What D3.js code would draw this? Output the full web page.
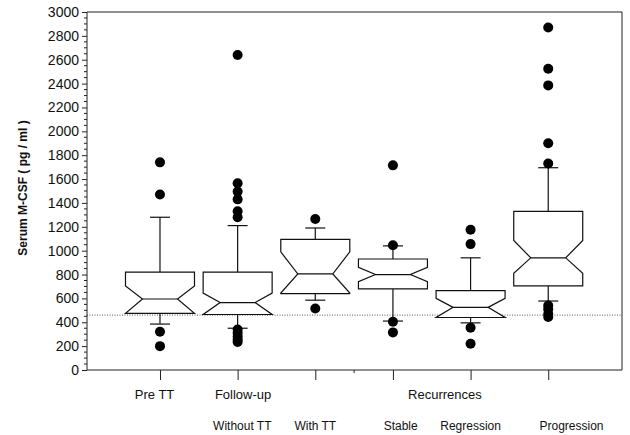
<!DOCTYPE html>
<html>
<head>
<meta charset="utf-8">
<script src="https://cdn.jsdelivr.net/npm/d3@7"></script>
<style>
  body { margin: 0; background: #fff; }
  svg { font-family: "Liberation Sans", Arial, sans-serif; }
</style>
</head>
<body>
<div id="chart"></div>
<script>
// groups, in order along the x axis
var groups = ["Pre TT", "Without TT", "With TT", "Stable", "Regression", "Progression"];
var positions = [1, 2, 3, 4, 5, 6];

// box statistics, pg / ml
var q1 = [475, 465, 640, 680, 440, 705];
var q3 = [820, 820, 1095, 930, 665, 1330];
var median = [595, 565, 805, 800, 525, 940];
var notchLo = [475, 465, 645, 740, 440, 810];
var notchHi = [705, 645, 990, 860, 600, 1085];
var whiskerLo = [385, 350, 585, 410, 395, 578];
var whiskerHi = [1280, 1210, 1190, 1040, 940, 1695];
var outliers = [
    [1740, 1470, 320, 200],
    [2640, 1565, 1495, 1430, 1330, 1280, 340, 310, 280, 255, 235],
    [1265, 515],
    [1715, 1045, 405, 315],
    [1175, 1055, 355, 220],
    [2870, 2525, 2385, 1900, 1730, 540, 510, 470, 445]
];
var refLine = 460;

var yTicks = d3.range(0, 3001, 200);
var yMinor = d3.range(0, 3001, 50);
var xTicks = [1, 2, 3, 4, 5, 6];
var xMinor = [3.5];

// category labels under the axis
var labelRow1 = ["Pre TT", "Follow-up", "Recurrences"];
var labelRow1Pos = [0.93, 2.07, 4.67];
var labelRow2 = ["Without TT", "With TT", "Stable", "Regression", "Progression"];
var labelRow2Pos = [2.06, 3.0, 4.1, 5.0, 6.3];

var width = 630, height = 435;
var mLeft = 87, mRight = 622, mTop = 12, mBottom = 370;

var svg = d3.select("#chart").append("svg")
    .attr("width", width)
    .attr("height", height);

var x = d3.scaleLinear().domain([0.06, 6.95]).range([mLeft, mRight]);
var y = d3.scaleLinear().domain([0, 3000]).range([mBottom, mTop]);

var boxHalf = 34.5, notchHalf = 17.5, capHalf = 10;

// frame
svg.append("path")
    .attr("d", "M" + mLeft + "," + mTop + "H" + mRight + "V" + mBottom)
    .attr("fill", "none")
    .attr("stroke", "#222")
    .attr("stroke-width", 1);

// reference line
svg.append("line")
    .attr("x1", mLeft).attr("x2", mRight)
    .attr("y1", y(refLine)).attr("y2", y(refLine))
    .attr("stroke", "#333")
    .attr("stroke-width", 0.8)
    .attr("stroke-dasharray", "1,1.5");

// y axis
var yAxis = svg.append("g")
    .attr("transform", "translate(" + mLeft + ",0)")
    .call(d3.axisLeft(y).tickValues(yTicks).tickSize(5).tickPadding(3).tickFormat(d3.format("d")));
yAxis.selectAll("text").attr("font-size", 14).attr("fill", "#111").attr("font-family", "Liberation Sans, Arial, sans-serif");
yAxis.select(".domain").attr("d", "M0," + mTop + "V" + mBottom).attr("stroke", "#222");
yAxis.selectAll(".tick line").attr("stroke", "#222");

svg.append("g")
    .attr("transform", "translate(" + mLeft + ",0)")
    .selectAll("line")
    .data(yMinor.filter(function (d) { return d % 200 !== 0; }))
    .enter().append("line")
    .attr("x1", -3).attr("x2", 0)
    .attr("y1", function (d) { return y(d); })
    .attr("y2", function (d) { return y(d); })
    .attr("stroke", "#222");

// x axis
var xAxis = svg.append("g")
    .attr("transform", "translate(0," + mBottom + ")")
    .call(d3.axisBottom(x).tickValues(xTicks).tickSize(10).tickFormat(""));
xAxis.select(".domain").attr("d", "M" + mLeft + ",0H" + mRight).attr("stroke", "#222");
xAxis.selectAll(".tick line").attr("stroke", "#222");

svg.append("g")
    .selectAll("line")
    .data(xMinor)
    .enter().append("line")
    .attr("x1", function (d) { return x(d); })
    .attr("x2", function (d) { return x(d); })
    .attr("y1", mBottom).attr("y2", mBottom + 3)
    .attr("stroke", "#222");

// y label
svg.append("text")
    .attr("transform", "translate(27,188) rotate(-90)")
    .attr("text-anchor", "middle")
    .attr("font-size", 12)
    .attr("font-weight", "bold")
    .attr("fill", "#111")
    .text("Serum M-CSF ( pg / ml )");

// x labels
svg.append("g").selectAll("text")
    .data(labelRow1)
    .enter().append("text")
    .attr("x", function (d, i) { return x(labelRow1Pos[i]); })
    .attr("y", 399)
    .attr("text-anchor", "middle")
    .attr("font-size", 13)
    .attr("fill", "#111")
    .text(function (d) { return d; });

svg.append("g").selectAll("text")
    .data(labelRow2)
    .enter().append("text")
    .attr("x", function (d, i) { return x(labelRow2Pos[i]); })
    .attr("y", 430)
    .attr("text-anchor", "middle")
    .attr("font-size", 12)
    .attr("fill", "#111")
    .text(function (d) { return d; });

// boxes
var boxes = svg.append("g").selectAll("g")
    .data(groups)
    .enter().append("g");

function boxPath(i) {
    var cx = x(positions[i]);
    var L = cx - boxHalf, R = cx + boxHalf;
    var l = cx - notchHalf, r = cx + notchHalf;
    return "M" + L + "," + y(q3[i]) +
        "H" + R +
        "V" + y(notchHi[i]) +
        "L" + r + "," + y(median[i]) +
        "L" + R + "," + y(notchLo[i]) +
        "V" + y(q1[i]) +
        "H" + L +
        "V" + y(notchLo[i]) +
        "L" + l + "," + y(median[i]) +
        "L" + L + "," + y(notchHi[i]) +
        "Z";
}

// whiskers
boxes.append("line")
    .attr("x1", function (d, i) { return x(positions[i]); })
    .attr("x2", function (d, i) { return x(positions[i]); })
    .attr("y1", function (d, i) { return y(q3[i]); })
    .attr("y2", function (d, i) { return y(whiskerHi[i]); })
    .attr("stroke", "#111").attr("stroke-width", 1.2);
boxes.append("line")
    .attr("x1", function (d, i) { return x(positions[i]); })
    .attr("x2", function (d, i) { return x(positions[i]); })
    .attr("y1", function (d, i) { return y(q1[i]); })
    .attr("y2", function (d, i) { return y(whiskerLo[i]); })
    .attr("stroke", "#111").attr("stroke-width", 1.2);
boxes.append("line")
    .attr("x1", function (d, i) { return x(positions[i]) - capHalf; })
    .attr("x2", function (d, i) { return x(positions[i]) + capHalf; })
    .attr("y1", function (d, i) { return y(whiskerHi[i]); })
    .attr("y2", function (d, i) { return y(whiskerHi[i]); })
    .attr("stroke", "#111").attr("stroke-width", 1.2);
boxes.append("line")
    .attr("x1", function (d, i) { return x(positions[i]) - capHalf; })
    .attr("x2", function (d, i) { return x(positions[i]) + capHalf; })
    .attr("y1", function (d, i) { return y(whiskerLo[i]); })
    .attr("y2", function (d, i) { return y(whiskerLo[i]); })
    .attr("stroke", "#111").attr("stroke-width", 1.2);

boxes.append("path")
    .attr("d", function (d, i) { return boxPath(i); })
    .attr("fill", "#fff")
    .attr("stroke", "#111")
    .attr("stroke-width", 1.2);

boxes.append("line")
    .attr("x1", function (d, i) { return x(positions[i]) - notchHalf; })
    .attr("x2", function (d, i) { return x(positions[i]) + notchHalf; })
    .attr("y1", function (d, i) { return y(median[i]); })
    .attr("y2", function (d, i) { return y(median[i]); })
    .attr("stroke", "#111").attr("stroke-width", 1.2);

// outliers
boxes.each(function (d, i) {
    d3.select(this).selectAll("circle")
        .data(outliers[i])
        .enter().append("circle")
        .attr("cx", x(positions[i]))
        .attr("cy", function (v) { return y(v); })
        .attr("r", 5)
        .attr("fill", "#000");
});
</script>
</body>
</html>
